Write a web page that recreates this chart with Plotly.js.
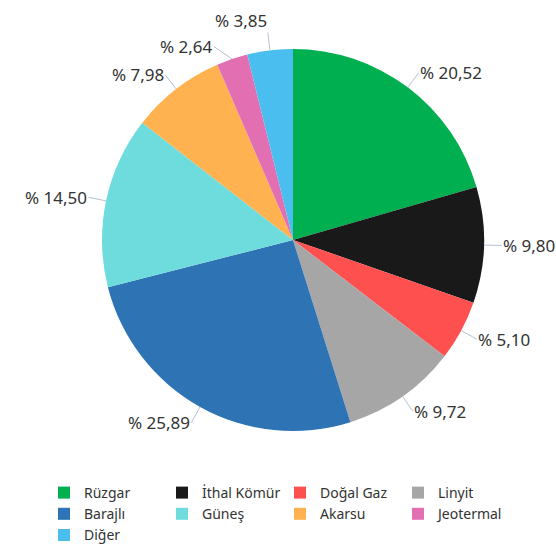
<!DOCTYPE html>
<html>
<head>
<meta charset="utf-8">
<script src="https://cdn.plot.ly/plotly-3.0.1.min.js"></script>
<style>html,body{margin:0;padding:0;background:#fff;}#chart{width:556px;height:546px;}</style>
</head>
<body>
<div id="chart"></div>
<script>
const categories = ["Rüzgar", "İthal Kömür", "Doğal Gaz", "Linyit", "Barajlı", "Güneş", "Akarsu", "Jeotermal", "Diğer"];
const shares = [20.52, 9.80, 5.10, 9.72, 25.89, 14.50, 7.98, 2.64, 3.85];
const colors = ["#00B050", "#191919", "#FF5050", "#A6A6A6", "#2E74B5", "#6EDCDC", "#FFB24F", "#E36FB3", "#4BBEF0"];

const W = 556, H = 546;
const CX = 293, CY = 240, R = 191;
const L = 18;            // leader line length (px)
const GAP = 25;          // min vertical spacing between labels on a side
const FONT = "Noto Sans, Open Sans, sans-serif";

const domain = {
  x: [(CX - R) / W, (CX + R) / W],
  y: [1 - (CY + R) / H, 1 - (CY - R) / H]
};

const total = shares.reduce((a, b) => a + b, 0);
let cum = 0;
const labels = shares.map((v, i) => {
  const mid = (cum + v / 2) / total;
  cum += v;
  const th = 2 * Math.PI * mid;
  const s = Math.sin(th), c = Math.cos(th);
  const nearVert = Math.abs(s) < 0.3;
  const tx = CX + (R + L) * s, ty = CY - (R + L) * c;
  return {
    v, s, c, nearVert,
    hx: CX + R * s, hy: CY - R * c,
    tx, ty,
    yanchor: nearVert ? (c > 0 ? "bottom" : "top") : "middle",
    center: nearVert ? ty + (c > 0 ? -11 : 11) : ty
  };
});

// simple overlap resolution on each side
[l => l.s < 0, l => l.s >= 0].forEach(side => {
  const grp = labels.filter(side).sort((a, b) => a.center - b.center);
  for (let k = 1; k < grp.length; k++) {
    const prev = grp[k - 1], cur = grp[k];
    if (cur.center < prev.center + GAP) {
      cur.center = prev.center + GAP;
      cur.yanchor = "middle";
      cur.ty = cur.center;
      const dy = CY - cur.ty;
      const rr = R + L;
      if (Math.abs(dy) < rr) {
        cur.tx = CX + Math.sign(cur.s) * Math.sqrt(rr * rr - dy * dy);
      }
    }
  }
});

const annotations = labels.map(l => ({
  x: l.hx / W, y: 1 - l.hy / H, xref: "paper", yref: "paper",
  text: "% " + l.v.toFixed(2).replace(".", ","),
  showarrow: true, arrowhead: 0, arrowwidth: 1, arrowcolor: "#B7C1D3",
  standoff: 0, startstandoff: 0, borderpad: 0,
  ax: l.tx - l.hx, ay: l.ty - l.hy,
  xanchor: l.s >= 0 ? "left" : "right",
  yanchor: l.yanchor,
  font: {family: FONT, size: 17, color: "#333333"}
}));

const data = [{
  type: "pie",
  labels: categories,
  values: shares,
  marker: {colors: colors, line: {width: 0}},
  sort: false,
  direction: "clockwise",
  rotation: 0,
  textinfo: "none",
  hoverinfo: "label+percent",
  domain: domain
}];

const layout = {
  width: W, height: H,
  margin: {l: 0, r: 0, t: 0, b: 0, autoexpand: false},
  paper_bgcolor: "#ffffff",
  showlegend: true,
  legend: {
    orientation: "h",
    x: 44 / W, xanchor: "left",
    y: 1 - 477 / H, yanchor: "top",
    entrywidth: 73, entrywidthmode: "pixels",
    traceorder: "normal",
    font: {family: FONT, size: 14, color: "#333333"},
    tracegroupgap: 0
  },
  annotations: annotations
};

Plotly.newPlot("chart", data, layout, {displayModeBar: false, staticPlot: true});
</script>
</body>
</html>
